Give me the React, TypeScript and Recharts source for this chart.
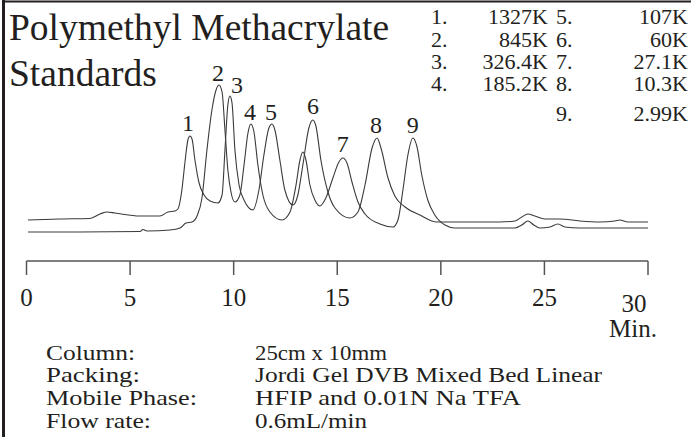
import { LineChart, Line, XAxis, YAxis, ReferenceDot } from "recharts";

// retention time (min) / detector signal
const traceATime = [
  0.07, 1.62, 3.06, 3.55, 3.89, 4.27, 5.48, 6.44, 6.83, 7.17, 7.31, 7.5, 7.65, 7.79, 7.89, 7.99, 8.13, 8.33,
  8.57, 8.86, 9.24, 9.44, 9.58, 9.72, 9.82, 9.92, 10.06, 10.26, 10.5, 10.93, 11.22, 11.46, 11.7, 11.85, 11.99,
  12.23, 12.47, 12.86, 13.1, 13.34, 13.63, 13.82, 13.97, 14.21, 14.55, 14.89, 15.61, 16.0, 16.34, 16.68, 16.92,
  17.11, 17.45, 17.78, 18.27, 18.99, 19.81, 20.92, 22.85, 23.58, 23.91, 24.2, 24.54, 25.02, 25.75, 26.71, 27.68,
  28.4, 28.64, 29.03, 30.0,
];
const traceASignal = [
  20, 21, 21.5, 26, 28, 27, 24, 24, 28, 29, 31, 50, 78, 100, 104, 101, 80, 57,
  45, 39, 37, 45, 90, 135, 144, 137, 90, 55, 40, 30, 50, 85, 112, 116, 110,
  80, 50, 35, 45, 75, 112, 120, 114, 80, 48, 32, 22, 28, 55, 92, 102,
  92, 62, 44, 33, 25, 18, 18, 18, 19, 23, 26, 24, 21, 21, 19, 18,
  19, 20, 18, 18,
];

const traceBTime = [
  0.07, 2.58, 5.48, 5.62, 5.82, 6.93, 7.41, 7.7, 7.99, 8.23, 8.47, 8.71, 8.95, 9.15, 9.29, 9.44, 9.58, 9.72,
  9.87, 10.06, 10.3, 10.5, 10.69, 10.83, 10.98, 11.17, 11.41, 11.75, 12.33, 12.72, 13.01, 13.2, 13.34, 13.49,
  13.68, 13.92, 14.16, 14.45, 14.79, 15.08, 15.27, 15.47, 15.71, 16.0, 16.34, 17.06, 17.69, 17.93, 18.17,
  18.41, 18.65, 18.84, 19.08, 19.37, 19.71, 20.2, 20.68, 23.58, 23.91, 24.2, 24.49, 24.78, 25.27, 25.65,
  25.99, 26.71, 30.0,
];
const traceBSignal = [
  8, 8, 8.5, 10.5, 9, 10, 12, 17, 18, 24, 42, 90, 130, 150, 155, 148, 110, 70,
  48, 38, 45, 75, 107, 116, 108, 75, 45, 28, 20, 28, 55, 80, 88, 80,
  55, 40, 34, 42, 62, 78, 82, 77, 58, 38, 26, 16, 13, 20, 50,
  85, 102, 94, 65, 40, 25, 15, 12, 12, 15, 19, 15, 12, 13, 16,
  13, 12, 12,
];

const peakNames = ["1", "2", "3", "4", "5", "6", "7", "8", "9"];
const peakLabelTime = [7.79, 9.24, 10.16, 10.79, 11.8, 13.83, 15.27, 16.87, 18.65];
const peakLabelSignal = [117, 167, 155, 128, 128, 134, 96, 115, 115];

const standardNo = ["1.", "2.", "3.", "4.", "5.", "6.", "7.", "8.", "9."];
const standardMw = ["1327K", "845K", "326.4K", "185.2K", "107K", "60K", "27.1K", "10.3K", "2.99K"];

const timeTicks = [0, 5, 10, 15, 20, 25, 30];

const conditionNames = ["Column:", "Packing:", "Mobile Phase:", "Flow rate:"];
const conditionValues = ["25cm x 10mm", "Jordi Gel DVB Mixed Bed Linear", "HFIP and 0.01N Na TFA", "0.6mL/min"];

const traceA = traceATime.map((t, i) => ({ t, v: traceASignal[i] }));
const traceB = traceBTime.map((t, i) => ({ t, v: traceBSignal[i] }));

const FONT = "'Liberation Serif', 'Times New Roman', serif";
const INK = "#231f20";
// the printed info block is set a little wide; stretch to match
const nameWidths = [89, 94, 151, 105];
const valueWidths = [132, 347, 266, 112];

function TimeTick(props: any) {
  const { x, y, payload } = props;
  const last = payload.value === 30;
  return (
    <text
      x={x + (last ? -14 : 0)}
      y={y + (last ? 26 : 20)}
      textAnchor="middle"
      dominantBaseline="central"
      fontFamily={FONT}
      fontSize={25}
      fill={INK}
    >
      {payload.value}
    </text>
  );
}

// one legend entry, drawn a touch wide like the print
function Cell({ x, y, anchor, children }: { x: number; y: number; anchor?: "end"; children: string }) {
  return (
    <g transform={`translate(${x},${y}) scale(1.05,1)`}>
      <text x={0} y={0} textAnchor={anchor}>
        {children}
      </text>
    </g>
  );
}

export default function App() {
  // legend rows: 1-4 left column, 5-8 right column, 9 on its own
  const rowY = [17.5, 39.8, 62.1, 84.4];
  return (
    <div style={{ position: "absolute", left: 0, top: 0, width: 691, height: 437, background: "#fff" }}>
      <LineChart width={691} height={437} data={traceA} margin={{ top: 20, right: 43, bottom: 146, left: 26.5 }}>
        <XAxis
          dataKey="t"
          type="number"
          domain={[0, 30]}
          ticks={timeTicks}
          height={30}
          tickSize={14}
          stroke="#555"
          strokeWidth={1.5}
          tick={<TimeTick />}
        />
        <YAxis type="number" domain={[-21, 220]} hide />
        <Line
          data={traceA}
          dataKey="v"
          type="monotone"
          stroke="#3a3a3a"
          strokeWidth={1.1}
          dot={false}
          isAnimationActive={false}
        />
        <Line
          data={traceB}
          dataKey="v"
          type="monotone"
          stroke="#3a3a3a"
          strokeWidth={1.1}
          dot={false}
          isAnimationActive={false}
        />
        {peakNames.map((name, i) => (
          <ReferenceDot
            key={name}
            x={peakLabelTime[i]}
            y={peakLabelSignal[i]}
            r={0}
            ifOverflow="visible"
            shape={(p: any) => (
              <text
                x={p.cx}
                y={p.cy}
                textAnchor="middle"
                dominantBaseline="central"
                fontFamily={FONT}
                fontSize={24}
                fill={INK}
              >
                {name}
              </text>
            )}
          />
        ))}
      </LineChart>

      <svg width={691} height={437} style={{ position: "absolute", left: 0, top: 0, pointerEvents: "none" }}>
        <line x1={3.5} y1={0} x2={3.5} y2={437} stroke="#231f20" strokeWidth={3} />
        <line x1={2} y1={1.5} x2={691} y2={1.5} stroke="#231f20" strokeWidth={2} />

        <g fontFamily={FONT} fill={INK}>
          <text x={9} y={40} fontSize={37.5}>Polymethyl Methacrylate</text>
          <text x={9} y={86} fontSize={37.5}>Standards</text>

          <g fontSize={21} dominantBaseline="central">
            {rowY.map((y, i) => (
              <g key={i}>
                <Cell x={431} y={y}>{standardNo[i]}</Cell>
                <Cell x={548} y={y} anchor="end">{standardMw[i]}</Cell>
                <Cell x={556} y={y}>{standardNo[i + 4]}</Cell>
                <Cell x={688} y={y} anchor="end">{standardMw[i + 4]}</Cell>
              </g>
            ))}
            <Cell x={556} y={114}>{standardNo[8]}</Cell>
            <Cell x={688} y={114} anchor="end">{standardMw[8]}</Cell>
          </g>

          <text x={633} y={328} fontSize={25} textAnchor="middle" dominantBaseline="central">Min.</text>

          <g fontSize={22} dominantBaseline="central">
            {conditionNames.map((n, i) => (
              <g key={n}>
                <text x={46} y={352 + i * 22.8} textLength={nameWidths[i]} lengthAdjust="spacingAndGlyphs">
                  {n}
                </text>
                <text x={255} y={352 + i * 22.8} textLength={valueWidths[i]} lengthAdjust="spacingAndGlyphs">
                  {conditionValues[i]}
                </text>
              </g>
            ))}
          </g>
        </g>
      </svg>
    </div>
  );
}
